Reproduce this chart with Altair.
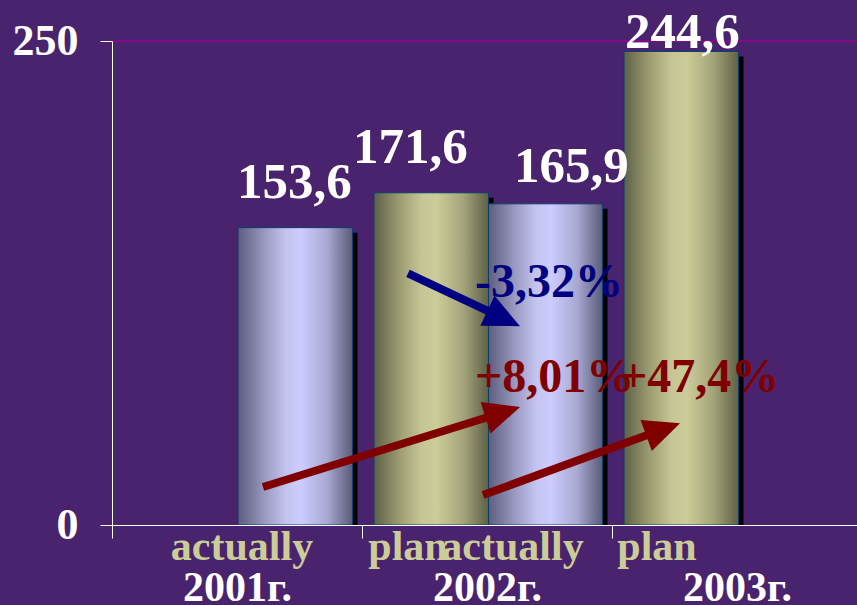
import json
import math
import altair as alt
import pandas as pd

# ---------------- data ----------------
years = ["2001г.", "2002г.", "2003г."]
bar_year = ["2001г.", "2002г.", "2002г.", "2003г."]
bar_kind = ["actually", "plan", "actually", "plan"]
bar_value = [153.6, 171.6, 165.9, 244.6]
bar_text = ["153,6", "171,6", "165,9", "244,6"]

y_ticks = [0, 250]
grid_values = [250]

kind_labels = ["actually", "plan", "actually", "plan"]
kind_label_x = [0.52, 1.184, 1.602, 2.18]      # category units (year i spans i..i+1)
kind_label_y = [-18.1, -18.1, -18.1, -18.1]    # value units (below the axis)

pct_text = ["-3,32%", "+8,01%", "+47,4%"]
pct_color = ["#000080", "#800000", "#800000"]
pct_x = [1.452, 1.452, 2.032]
pct_y = [117.6, 68.6, 68.6]

arrow_x_from = [1.184, 0.604, 1.484]
arrow_y_from = [130.0, 19.6, 15.5]
arrow_x_to = [1.632, 1.632, 2.272]
arrow_y_to = [102.7, 60.9, 52.6]
arrow_color = ["#000080", "#800000", "#800000"]

# ---------------- layout ----------------
W, H = 745, 484
X_DOMAIN = [0, 2.98]
Y_DOMAIN = [0, 250]
PX_X = W / (X_DOMAIN[1] - X_DOMAIN[0])
PX_Y = H / (Y_DOMAIN[1] - Y_DOMAIN[0])
BAR_W = 0.458
FONT = "Liberation Serif"
BG = "#49236d"
HEAD_LEN = 34

rows = []
for y, k, v, t in zip(bar_year, bar_kind, bar_value, bar_text):
    c = years.index(y) + 0.5
    x0 = c - 0.452 if k == "plan" else c + 0.004
    x1 = x0 + BAR_W
    rows.append(dict(year=y, kind=k, value=v, text=t, x0=x0, x1=x1,
                     xc=(x0 + x1) / 2,
                     sx0=x0 + 5 / PX_X, sx1=x1 + 5 / PX_X, sy=v - 5 / PX_Y))
bars = pd.DataFrame(rows)

arows = []
for xf, yf, xt, yt, col in zip(arrow_x_from, arrow_y_from, arrow_x_to, arrow_y_to, arrow_color):
    dxp = (xt - xf) * PX_X
    dyp = (yt - yf) * PX_Y
    ln = math.hypot(dxp, dyp)
    bx = xt - dxp / ln * HEAD_LEN / PX_X
    by = yt - dyp / ln * HEAD_LEN / PX_Y
    ang = math.degrees(math.atan2(-dyp, dxp)) % 360
    arows.append(dict(xf=xf, yf=yf, xt=xt, yt=yt, bx=bx, by=by, angle=ang, color=col))
arrows = pd.DataFrame(arows)

pcts = pd.DataFrame(dict(text=pct_text, color=pct_color, x=pct_x, y=pct_y))
kinds = pd.DataFrame(dict(text=kind_labels, x=kind_label_x, y=kind_label_y))
grid = pd.DataFrame(dict(v=grid_values))

x_scale = alt.Scale(domain=X_DOMAIN, nice=False, zero=False)
y_scale = alt.Scale(domain=Y_DOMAIN, nice=False, zero=False)

x_axis = alt.Axis(
    values=[0, 1, 2], title=None, grid=False,
    labelExpr=json.dumps(years, ensure_ascii=False) + "[datum.value]",
    labelOffset=125, labelAlign="center", labelBaseline="alphabetic",
    labelPadding=62, labelFont=FONT, labelFontWeight="bold", labelFontSize=42,
    labelColor="white", labelOverlap=False, labelFlush=False, labelBound=False,
    domainColor="white", domainWidth=1, tickColor="white", tickSize=13, tickWidth=1,
    zindex=1,
)
y_axis = alt.Axis(
    values=y_ticks, title=None, grid=False,
    labelFont=FONT, labelFontWeight="bold", labelFontSize=44, labelColor="white",
    labelPadding=22, labelOverlap=False, labelFlush=False,
    domainColor="white", domainWidth=1, tickColor="white", tickSize=12, tickWidth=1,
    zindex=1,
)


def X(f):
    return alt.X(f, type="quantitative", scale=x_scale, axis=x_axis)


def Y(f):
    return alt.Y(f, type="quantitative", scale=y_scale, axis=y_axis)


lav = alt.Gradient(
    gradient="linear", x1=0, x2=1, y1=0, y2=0,
    stops=[
        alt.GradientStop(color="#5c5c7c", offset=0),
        alt.GradientStop(color="#9696be", offset=0.22),
        alt.GradientStop(color="#c4c4f0", offset=0.42),
        alt.GradientStop(color="#ccccff", offset=0.55),
        alt.GradientStop(color="#a8a8d2", offset=0.78),
        alt.GradientStop(color="#5a5a78", offset=1),
    ],
)
kha = alt.Gradient(
    gradient="linear", x1=0, x2=1, y1=0, y2=0,
    stops=[
        alt.GradientStop(color="#5e6046", offset=0),
        alt.GradientStop(color="#9c9c72", offset=0.22),
        alt.GradientStop(color="#c6c696", offset=0.42),
        alt.GradientStop(color="#cccc99", offset=0.55),
        alt.GradientStop(color="#a4a47a", offset=0.78),
        alt.GradientStop(color="#5e6046", offset=1),
    ],
)

grid_rule = alt.Chart(grid).mark_rule(color="#990099", strokeWidth=1.5).encode(y=Y("v"))

base = alt.Chart(bars).transform_calculate(zero="0")

shadow = base.mark_rect(color="black").encode(
    x=X("sx0"), x2="sx1", y=Y("sy"), y2="zero:Q")

bar_act = base.transform_filter(alt.datum.kind == "actually").mark_rect(
    fill=lav, stroke="#0b3c6e", strokeWidth=1).encode(
    x=X("x0"), x2="x1", y=Y("value"), y2="zero:Q")
bar_plan = base.transform_filter(alt.datum.kind == "plan").mark_rect(
    fill=kha, stroke="#0b3c6e", strokeWidth=1).encode(
    x=X("x0"), x2="x1", y=Y("value"), y2="zero:Q")

nudges = [(-1, -30), (-21, -30), (26, -22), (1, -3)]
value_labels = []
for t, (ddx, ddy) in zip(bar_text, nudges):
    value_labels.append(
        alt.Chart(bars).transform_filter(alt.datum.text == t).mark_text(
            font=FONT, fontWeight="bold", fontSize=51, color="white",
            align="center", baseline="alphabetic", dx=ddx, dy=ddy,
        ).encode(x=X("xc"), y=Y("value"), text="text:N")
    )

arrow_lines = alt.Chart(arrows).mark_rule(strokeWidth=8, strokeCap="butt").encode(
    x=X("xf"), y=Y("yf"), x2="bx", y2="by", color=alt.Color("color:N", scale=None))

arrow_heads = alt.Chart(arrows).mark_point(
    shape="M0,0L-2,-0.92L-2,0.92Z", filled=True, size=1296, opacity=1, strokeWidth=0,
).encode(x=X("xt"), y=Y("yt"), angle=alt.Angle("angle:Q", scale=None),
         color=alt.Color("color:N", scale=None))

pct_labels = alt.Chart(pcts).mark_text(
    font=FONT, fontWeight="bold", fontSize=48, align="left", baseline="alphabetic",
).encode(x=X("x"), y=Y("y"), text="text:N", color=alt.Color("color:N", scale=None))

kind_text = alt.Chart(kinds).mark_text(
    font=FONT, fontWeight="bold", fontSize=42, align="center", baseline="alphabetic",
    color="#cccc99",
).encode(x=X("x"), y=Y("y"), text="text:N")

chart = alt.layer(
    grid_rule, shadow, bar_act, bar_plan, *value_labels, arrow_lines, arrow_heads,
    pct_labels, kind_text
).properties(
    width=W, height=H,
    padding={"left": 112, "top": 41, "right": 0, "bottom": 80},
    autosize=alt.AutoSizeParams(type="none"),
    background=BG,
).configure_view(strokeWidth=0)

chart.save("out.html", embed_options={"renderer": "svg", "actions": False})
